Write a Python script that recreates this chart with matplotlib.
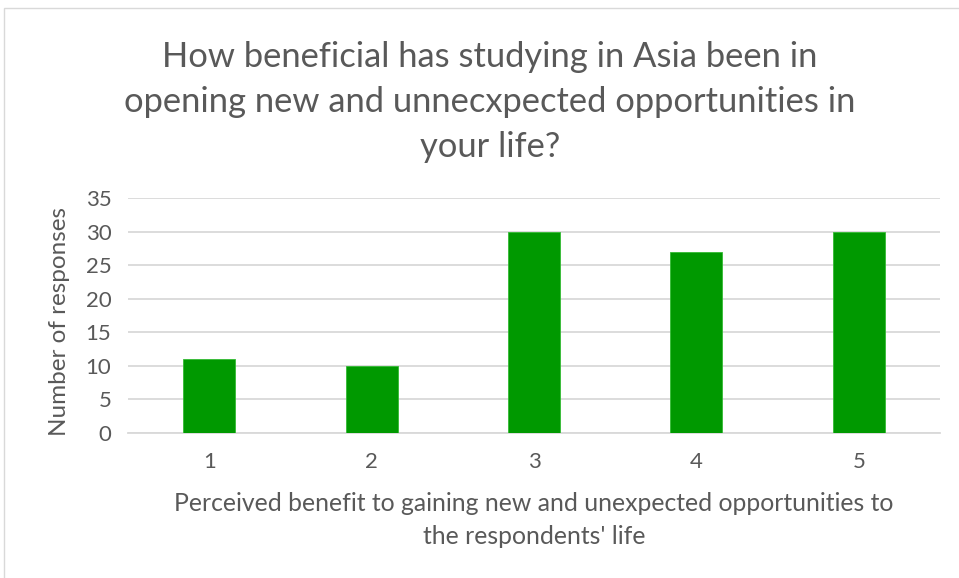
import matplotlib
matplotlib.use("Agg")
import matplotlib.pyplot as plt
from matplotlib.patches import Rectangle

categories = ["1", "2", "3", "4", "5"]
responses = [11, 10, 30, 27, 30]
yticks = [0, 5, 10, 15, 20, 25, 30, 35]

title = "How beneficial has studying in Asia been in\nopening new and unnecxpected opportunities in\nyour life?"
xlabel = "Perceived benefit to gaining new and unexpected opportunities to\nthe respondents' life"
ylabel = "Number of responses"

plt.rcParams['font.family'] = ['Lato', 'DejaVu Sans']
gray = "#595959"

fig = plt.figure(figsize=(9.59, 5.78), dpi=100)
fig.patches.append(Rectangle((4/959, -0.1), 1.2, 1 - 8/578 + 0.1, transform=fig.transFigure,
                             fill=False, edgecolor="#d9d9d9", linewidth=1))
ax = fig.add_axes([128/959, 1 - 433/578, 812/959, 235/578])
x = list(range(len(categories)))
ax.bar(x, responses, width=0.32, color="#009900", edgecolor="#33bb33", linewidth=0.6, zorder=3)
ax.set_xlim(-0.5, len(categories) - 0.5)
ax.set_ylim(0, 35)
ax.set_yticks(yticks)
ax.set_xticks(x)
ax.set_xticklabels(categories)
ax.grid(axis="y", color="#d9d9d9", linewidth=1.3, zorder=0)
for s in ["top", "right", "left"]:
    ax.spines[s].set_visible(False)
ax.spines["bottom"].set_color("#d9d9d9")
ax.spines["bottom"].set_linewidth(1.3)
ax.tick_params(axis="both", length=0, labelsize=16, colors=gray)
ax.tick_params(axis="x", pad=14)
ax.tick_params(axis="y", pad=12)
fig.text(60/959, 1 - 322/578, ylabel, rotation=90, ha="center", va="center", fontsize=17.5, color=gray)
fig.text(534/959, 1 - 520/578, xlabel, ha="center", va="center", fontsize=17.8, color=gray, linespacing=1.55)
fig.text(490/959, 1 - 102/578, title, ha="center", va="center", fontsize=24.8, color=gray, linespacing=1.5)
fig.savefig("out.png", dpi=100)
